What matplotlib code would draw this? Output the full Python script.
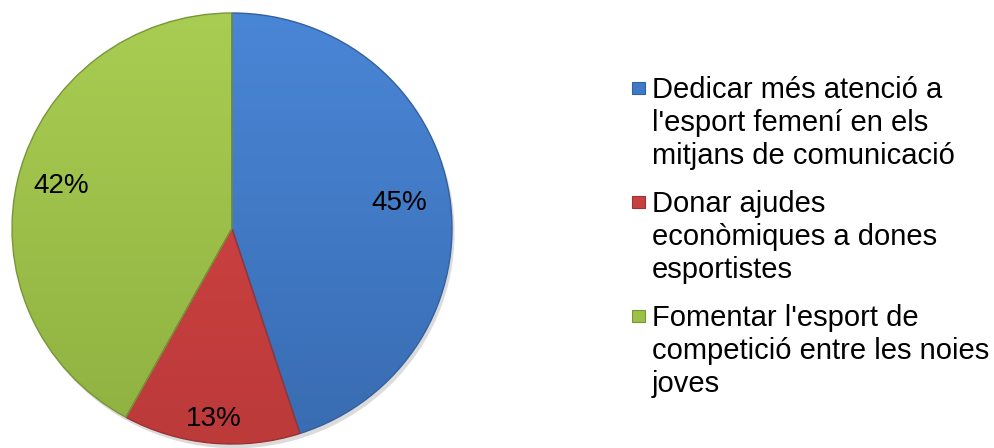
import numpy as np
import matplotlib.pyplot as plt
from matplotlib.colors import LinearSegmentedColormap
from matplotlib.patches import Rectangle, Ellipse

plt.rcParams['font.family'] = ['Liberation Sans', 'DejaVu Sans']

etiquetes = [
    "Dedicar més atenció a\nl'esport femení en els\nmitjans de comunicació",
    "Donar ajudes\neconòmiques a dones\nesportistes",
    "Fomentar l'esport de\ncompetició entre les noies\njoves",
]
percentatges = [45, 13, 42]

color_clar = ['#4a86d6', '#d64646', '#a9cd52']
color_fosc = ['#386cb2', '#bc3a3a', '#8fb141']
color_vora = ['#33609e', '#9c3232', '#77953a']
color_llegenda = ['#3f79c8', '#c84040', '#9cc048']

fig = plt.figure(figsize=(9.94, 4.48), dpi=100)

# pastís: lleugerament aixafat en vertical
ax = fig.add_axes([12 / 994, 4 / 448, 440 / 994, 431 / 448])
ax.add_patch(Ellipse((0.012, -0.02), 2.0, 2.0, color='#9a9a9a', alpha=0.35,
                     lw=0, zorder=0, clip_on=False))
wedges, _ = ax.pie(percentatges, startangle=90, counterclock=False, radius=1,
                   colors=color_clar,
                   wedgeprops=dict(linewidth=1.0))
ax.set_aspect('auto')
ax.set_xlim(-1, 1)
ax.set_ylim(-1, 1)

grad = np.linspace(0, 1, 256).reshape(-1, 1)
for w, c1, c2, cv in zip(wedges, color_clar, color_fosc, color_vora):
    cmap = LinearSegmentedColormap.from_list('g', [c1, c2])
    im = ax.imshow(grad, cmap=cmap, extent=(-1, 1, -1, 1), origin='upper',
                   aspect='auto', zorder=0.5)
    im.set_clip_path(w)
    w.set_facecolor('none')
    w.set_edgecolor(cv)
    w.set_zorder(1)

# etiquetes de percentatge dins de cada porció
dist = [0.77, 0.89, 0.80]
inici = 90.0
for p, r in zip(percentatges, dist):
    mig = np.deg2rad(inici - p * 3.6 / 2)
    inici -= p * 3.6
    ax.text(r * np.cos(mig), r * np.sin(mig), f'{p}%', fontsize=20,
            ha='center', va='center', color='black', zorder=3)

# llegenda dibuixada a mà, en píxels de la figura
lg = fig.add_axes([0, 0, 1, 1])
lg.set_xlim(0, 994)
lg.set_ylim(448, 0)
lg.axis('off')
y0 = 98
for text, cf, cv in zip(etiquetes, color_llegenda, color_vora):
    lg.add_patch(Rectangle((632, y0 - 15.5), 13, 12, facecolor=cf,
                           edgecolor=cv, linewidth=0.8))
    for k, linia in enumerate(text.split('\n')):
        lg.text(652, y0 + k * 33, linia, fontsize=21, ha='left',
                va='baseline', color='black')
    y0 += 114

fig.savefig('out.png', dpi=100)
